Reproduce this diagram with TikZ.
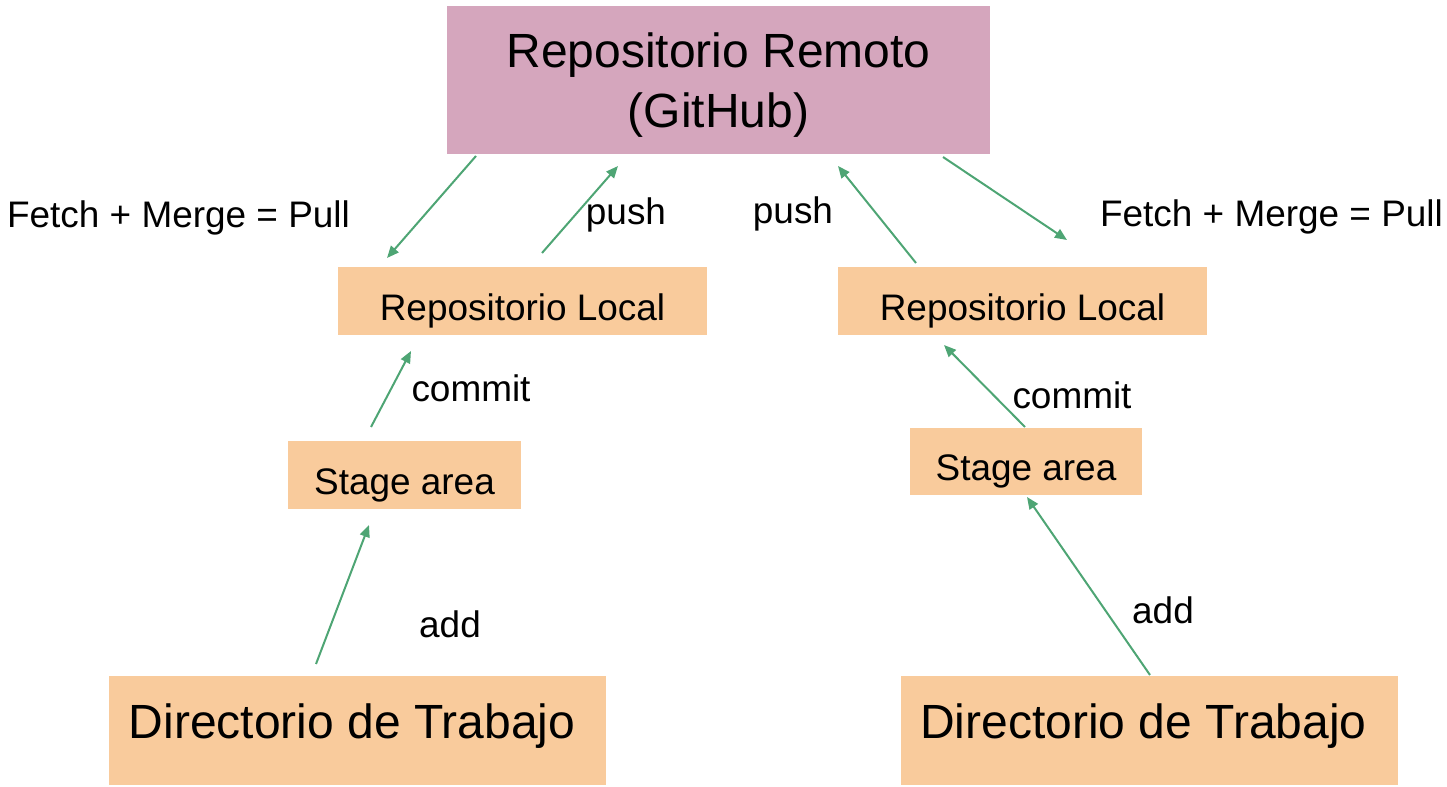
\documentclass[tikz,border=0pt]{standalone}
\usepackage{fontspec}
\setmainfont{Liberation Sans}
\usetikzlibrary{arrows.meta}
\definecolor{remotecol}{HTML}{D5A6BD}
\definecolor{localcol}{HTML}{F9CB9C}
\definecolor{arrowcol}{HTML}{4EA574}
\begin{document}
\begin{tikzpicture}[x=0.75pt, y=-0.75pt,
  box/.style={fill=localcol, inner sep=0pt},
  txt/.style={inner sep=0pt, font=\fontsize{27.7}{33}\selectfont},
  bigtxt/.style={inner sep=0pt, font=\fontsize{36}{45}\selectfont, align=center},
  flow/.style={draw=arrowcol, line width=1.5pt, -{Triangle[length=9pt, width=7.5pt]}}]
\useasboundingbox (0,0) rectangle (1447,787);
% boxes
\node[box, fill=remotecol, minimum width=543*0.75pt, minimum height=148*0.75pt,
  label={[bigtxt, yshift=-4pt]center:Repositorio Remoto\\(GitHub)}] (remote) at (718.5,80) {};
\node[box, minimum width=369*0.75pt, minimum height=68*0.75pt,
  label={[txt, yshift=-7.5pt]center:Repositorio Local}] (locl) at (522.5,301) {};
\node[box, minimum width=369*0.75pt, minimum height=68*0.75pt,
  label={[txt, yshift=-7.5pt]center:Repositorio Local}] (locr) at (1022.5,301) {};
\node[box, minimum width=233*0.75pt, minimum height=68*0.75pt,
  label={[txt, yshift=-7.5pt]center:Stage area}] (stgl) at (404.5,475) {};
\node[box, minimum width=232*0.75pt, minimum height=67*0.75pt,
  label={[txt, yshift=-7.5pt]center:Stage area}] (stgr) at (1026,461.5) {};
\node[box, minimum width=497*0.75pt, minimum height=109*0.75pt,
  label={[bigtxt, xshift=-4pt, yshift=3pt]center:Directorio de Trabajo}] (dirl) at (357.5,730.5) {};
\node[box, minimum width=497*0.75pt, minimum height=109*0.75pt,
  label={[bigtxt, xshift=-4.5pt, yshift=3pt]center:Directorio de Trabajo}] (dirr) at (1149.5,730.5) {};
% arrow ends
\coordinate (pulla) at (476,156);
\coordinate (pullb) at (387,258);
\coordinate (pusha) at (542,253);
\coordinate (pushb) at (618,166);
\coordinate (pushc) at (916,263);
\coordinate (pushd) at (838,166);
\coordinate (pullc) at (943,157);
\coordinate (pulld) at (1067,240);
\coordinate (comla) at (371,427);
\coordinate (comlb) at (411,351);
\coordinate (addla) at (316,664);
\coordinate (addlb) at (369,525);
\coordinate (comra) at (1025,427);
\coordinate (comrb) at (944,345);
\coordinate (addra) at (1150,675);
\coordinate (addrb) at (1027,497);
\draw[flow] (pulla) -- (pullb);
\draw[flow] (pusha) -- (pushb);
\draw[flow] (pushc) -- (pushd);
\draw[flow] (pullc) -- (pulld);
\draw[flow] (comla) -- (comlb);
\draw[flow] (addla) -- (addlb);
\draw[flow] (comra) -- (comrb);
\draw[flow] (addra) -- (addrb);
% labels
\node[txt] (fml) at (178.5,218) {Fetch + Merge = Pull};
\node[txt] (pshl) at (626,215) {push};
\node[txt] (pshr) at (793,214) {push};
\node[txt] (fmr) at (1271.5,217) {Fetch + Merge = Pull};
\node[txt] (cml) at (471,388) {commit};
\node[txt] (adl) at (450,624) {add};
\node[txt] (cmr) at (1072,395) {commit};
\node[txt] (adr) at (1163,610) {add};
\end{tikzpicture}
\end{document}
